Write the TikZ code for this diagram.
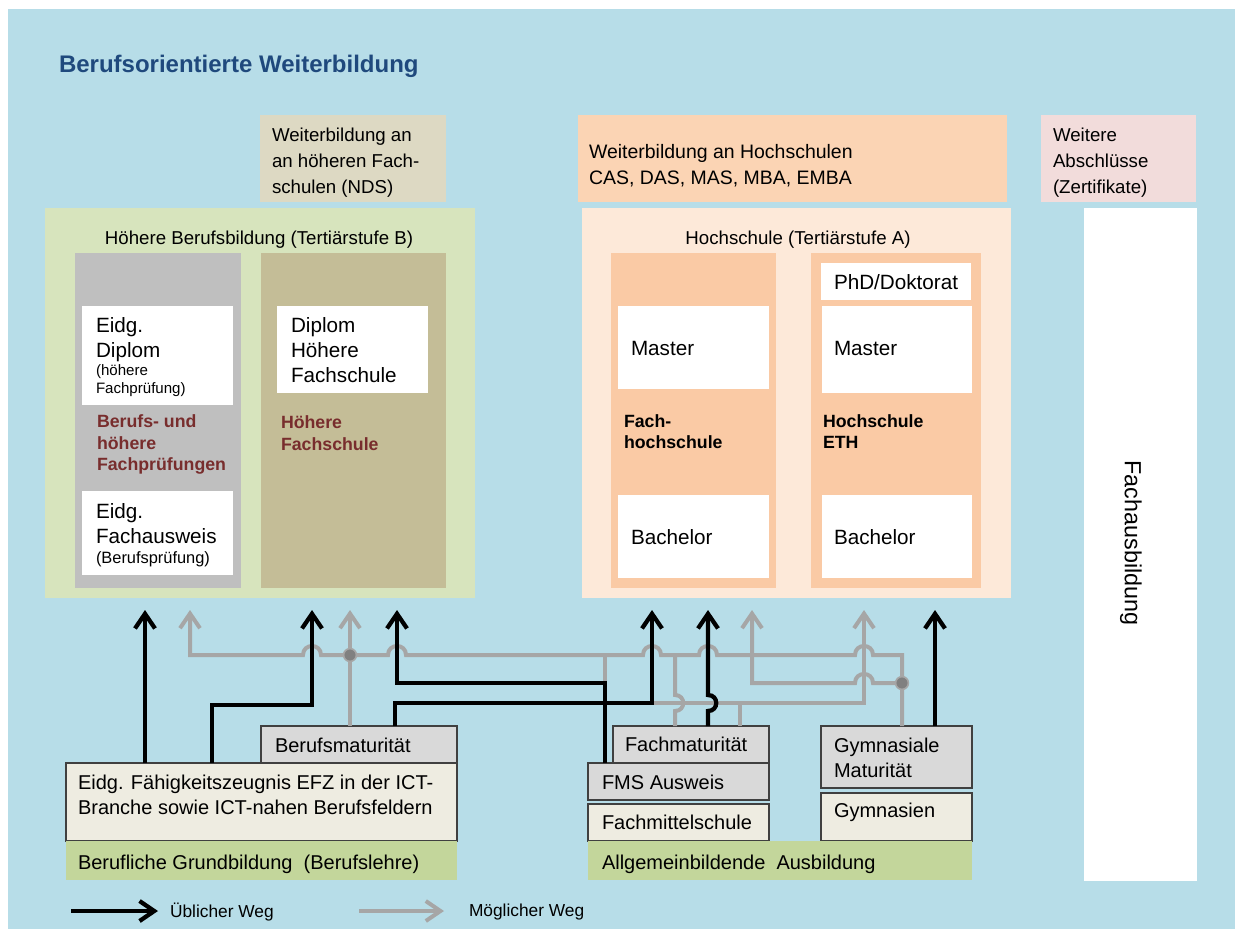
\documentclass[tikz,border=0pt]{standalone}
\usepackage{fontspec}
\setmainfont{Liberation Sans}
\usetikzlibrary{arrows.meta}
\definecolor{bgblue}{RGB}{183,221,232}
\definecolor{titleblue}{RGB}{31,73,125}
\definecolor{ndscol}{RGB}{221,217,195}
\definecolor{peachA}{RGB}{251,212,180}
\definecolor{pinkA}{RGB}{242,220,219}
\definecolor{greenA}{RGB}{215,228,189}
\definecolor{greyA}{RGB}{191,191,191}
\definecolor{tanA}{RGB}{196,189,151}
\definecolor{peachB}{RGB}{253,233,217}
\definecolor{peachC}{RGB}{250,202,165}
\definecolor{greyB}{RGB}{217,217,217}
\definecolor{creamA}{RGB}{238,236,225}
\definecolor{greenB}{RGB}{195,214,155}
\definecolor{darkredA}{RGB}{120,45,45}
\definecolor{lineGrey}{RGB}{166,166,166}
\definecolor{dotGrey}{RGB}{128,128,128}
\definecolor{borderA}{RGB}{64,64,64}
\newcommand\myfs[2]{\fontsize{#1}{#2}\selectfont}
\newcommand\mybox[6]{\node[#6, minimum width={(#4-#2)*0.75pt}, minimum height={(#5-#3)*0.75pt}] (#1) at ({(#2+#4)/2},{(#3+#5)/2}) {};}
\begin{document}
\begin{tikzpicture}[x=0.75pt,y=-0.75pt,
  every node/.style={inner sep=0pt, outer sep=0pt},
  txt/.style={anchor=north west, align=left},
  bordered/.style={draw=borderA, line width=0.8pt},
  blk/.style={draw=black, line width=3.2pt, -{Straight Barb[length=11pt,width=15pt]}},
  gry/.style={draw=lineGrey, line width=3pt, -{Straight Barb[length=11pt,width=15pt]}},
  gryline/.style={draw=lineGrey, line width=3pt},
  dot/.style={fill=dotGrey, draw=lineGrey, line width=1.2pt}]
\useasboundingbox (0,0) rectangle (1235,929);
\fill[white] (0,0) rectangle (1235,929);
\fill[bgblue] (8,9) rectangle (1235,929);

% title
\node[txt, font={\myfs{18}{21}\bfseries}, text=titleblue] (title) at (59,55) {Berufsorientierte Weiterbildung};

% top boxes
\mybox{nds}{260}{115}{446}{202}{fill=ndscol}
\node[txt, font={\myfs{14}{19.5}}] (ndst) at (272,128) {Weiterbildung an\\an höheren Fach-\\schulen (NDS)};
\mybox{wbh}{578}{115}{1007}{202}{fill=peachA}
\node[txt, font={\myfs{14.6}{19.5}}] (wbht) at (589,144) {Weiterbildung an Hochschulen\\CAS, DAS, MAS, MBA, EMBA};
\mybox{wa}{1041}{115}{1196}{202}{fill=pinkA}
\node[txt, font={\myfs{14}{19.5}}] (wat) at (1053,128) {Weitere\\Abschlüsse\\(Zertifikate)};

% Hoehere Berufsbildung
\mybox{hb}{45}{208}{475}{598}{fill=greenA}
\node[anchor=north, font={\myfs{14}{17}}] (hbt) at (259,231) {Höhere Berufsbildung (Tertiärstufe B)};
\mybox{bhf}{75}{253}{241}{588}{fill=greyA}
\mybox{dip}{82}{306}{233}{405}{fill=white}
\node[txt, font={\myfs{15.5}{18.75}}] (dipt) at (96,318) {Eidg.\\Diplom};
\node[txt, font={\myfs{11.3}{13.5}}] (dipt2) at (96,365) {(höhere\\Fachprüfung)};
\node[txt, font={\myfs{13.3}{16.1}\bfseries}, text=darkredA] (bhft) at (97,415) {Berufs- und\\höhere\\Fachprüfungen};
\mybox{fa}{82}{491}{233}{575}{fill=white}
\node[txt, font={\myfs{15.5}{18.75}}] (fat) at (96,504) {Eidg.\\Fachausweis};
\node[txt, font={\myfs{12.3}{15}}] (fat2) at (96,552) {(Berufsprüfung)};
\mybox{hf}{261}{253}{446}{588}{fill=tanA}
\mybox{dhf}{277}{306}{428}{393}{fill=white}
\node[txt, font={\myfs{15.5}{18.75}}] (dhft) at (291,318) {Diplom\\Höhere\\Fachschule};
\node[txt, font={\myfs{13.3}{16.1}\bfseries}, text=darkredA] (hft) at (281,416) {Höhere\\Fachschule};

% Hochschule
\mybox{hs}{582}{208}{1011}{598}{fill=peachB}
\node[anchor=north, font={\myfs{14}{17}}] (hst) at (798,231) {Hochschule (Tertiärstufe A)};
\mybox{fh}{611}{253}{776}{588}{fill=peachC}
\mybox{fhm}{618}{306}{769}{389}{fill=white}
\node[txt, font={\myfs{15.5}{18.75}}] (fhmt) at (631,341) {Master};
\node[txt, font={\myfs{13.3}{15.75}\bfseries}] (fht) at (624,415) {Fach-\\hochschule};
\mybox{fhb}{618}{495}{769}{578}{fill=white}
\node[txt, font={\myfs{15.5}{18.75}}] (fhbt) at (631,530) {Bachelor};
\mybox{eth}{811}{253}{981}{588}{fill=peachC}
\mybox{phd}{821}{263}{971}{300}{fill=white}
\node[txt, font={\myfs{15.5}{18.75}}] (phdt) at (834,275) {PhD/Doktorat};
\mybox{ethm}{822}{306}{972}{393}{fill=white}
\node[txt, font={\myfs{15.5}{18.75}}] (ethmt) at (834,341) {Master};
\node[txt, font={\myfs{13.3}{15.75}\bfseries}] (etht) at (823,415) {Hochschule\\ETH};
\mybox{ethb}{822}{495}{972}{578}{fill=white}
\node[txt, font={\myfs{15.5}{18.75}}] (ethbt) at (834,530) {Bachelor};

% Fachausbildung
\mybox{fab}{1084}{208}{1197}{881}{fill=white}
\node[rotate=-90, font={\myfs{17.5}{20}}] (fabt) at (1131,543) {Fachausbildung};

% lower boxes
\mybox{bm}{261}{726}{457}{763}{fill=greyB, bordered}
\node[txt, font={\myfs{15}{18.75}}] (bmt) at (275,738) {Berufsmaturität};
\mybox{efz}{66}{763}{457}{841}{fill=creamA, bordered}
\node[txt, font={\myfs{15}{18.75}}] (efzt) at (78,775) {Eidg. Fähigkeitszeugnis EFZ in der ICT-\\Branche sowie ICT-nahen Berufsfeldern};
\mybox{gb}{66}{841}{457}{880}{fill=greenB}
\node[txt, font={\myfs{15}{18.75}}] (gbt) at (78,855) {Berufliche Grundbildung\ \ (Berufslehre)};

\mybox{fm}{613}{726}{769}{763}{fill=greyB, bordered}
\node[txt, font={\myfs{15}{18.75}}] (fmt) at (625,737) {Fachmaturität};
\mybox{fms}{588}{763}{769}{800}{fill=greyB, bordered}
\node[txt, font={\myfs{15}{18.75}}] (fmst) at (602,775) {FMS Ausweis};
\mybox{fmsch}{588}{804}{769}{841}{fill=creamA, bordered}
\node[txt, font={\myfs{15}{18.75}}] (fmscht) at (602,815) {Fachmittelschule};
\mybox{gm}{821}{726}{972}{788}{fill=greyB, bordered}
\node[txt, font={\myfs{15}{18.75}}] (gmt) at (834,738) {Gymnasiale\\Maturität};
\mybox{gym}{821}{793}{972}{841}{fill=creamA, bordered}
\node[txt, font={\myfs{15}{18.75}}] (gymt) at (834,803) {Gymnasien};
\mybox{ab}{588}{841}{972}{880}{fill=greenB}
\node[txt, font={\myfs{15}{18.75}}] (abt) at (602,855) {Allgemeinbildende\ \ Ausbildung};

% arrow tips (free ends)
\coordinate (tA) at (145,610);
\coordinate (tB) at (190,610);
\coordinate (tC) at (312,610);
\coordinate (tD) at (350,610);
\coordinate (tE) at (397,610);
\coordinate (tF) at (652,610);
\coordinate (tG) at (708,610);
\coordinate (tH) at (752,610);
\coordinate (tI) at (864,610);
\coordinate (tJ) at (935,610);
\coordinate (dotA) at (350,655);
\coordinate (dotB) at (902,683);

% grey connectors
\draw[gryline] (605,0 |- fms.north) -- (605,655);
\draw[gryline] (675,0 |- fm.north) -- (675,711) .. controls (686,711) and (686,695) .. (675,695) -- (675,655);
\draw[gryline] (652,703) -- (740,703);
\draw[gry] (740,0 |- fm.north) -- (740,703) -- (864,703) -- (tI);
\draw[gry] (dotB) -- (873,683) .. controls (873,671) and (855,671) .. (855,683) -- (752,683) -- (tH);
\draw[gry] (902,0 |- gm.north) -- (dotB) -- (902,655)
  -- (873,655) .. controls (873,643) and (855,643) .. (855,655)
  -- (717,655) .. controls (717,643) and (699,643) .. (699,655)
  -- (661,655) .. controls (661,643) and (643,643) .. (643,655)
  -- (406,655) .. controls (406,643) and (388,643) .. (388,655)
  -- (321,655) .. controls (321,643) and (303,643) .. (303,655)
  -- (190,655) -- (tB);
\draw[gry] (350,0 |- bm.north) -- (tD);
\draw[dot] (dotA) circle[radius=4.8pt];
\draw[dot] (dotB) circle[radius=4.8pt];

% black connectors
\draw[blk] (145,0 |- efz.north) -- (tA);
\draw[blk] (212,0 |- efz.north) -- (212,705) -- (312,705) -- (tC);
\draw[blk] (605,0 |- fms.north) -- (605,683) -- (397,683) -- (tE);
\draw[blk] (395,0 |- bm.north) -- (395,703) -- (652,703) -- (tF);
\draw[blk] (708,0 |- fm.north) -- (708,711) .. controls (719,711) and (719,695) .. (708,695) -- (tG);
\draw[blk] (935,0 |- gm.north) -- (tJ);

% legend
\coordinate (lA1) at (71,911);
\coordinate (lA2) at (158,911);
\coordinate (lB1) at (359,911);
\coordinate (lB2) at (444,911);
\draw[blk] (lA1) -- (lA2);
\draw[gry] (lB1) -- (lB2);
\node[anchor=west, font={\myfs{13}{15}}] (lgA) at (170,912) {Üblicher Weg};
\node[anchor=west, font={\myfs{13}{15}}] (lgB) at (469,912) {Möglicher Weg};
\end{tikzpicture}
\end{document}
